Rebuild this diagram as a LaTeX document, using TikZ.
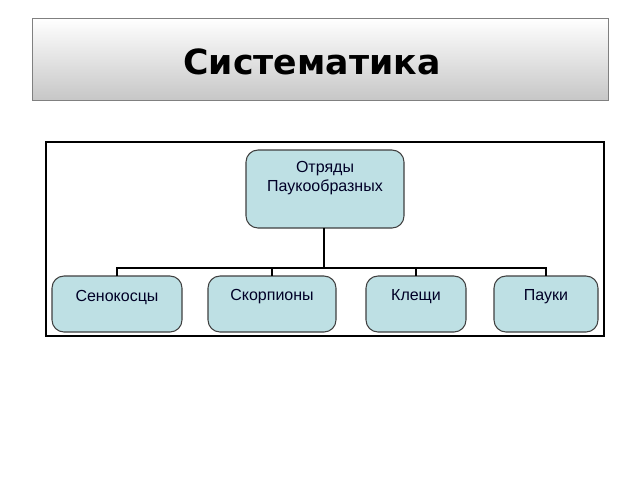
\documentclass[tikz,border=0pt]{standalone}
\usepackage{fontspec}
\setmainfont{Liberation Sans}
\newfontfamily\titlefont{DejaVu Sans}
\begin{document}
\begin{tikzpicture}[x=0.75pt,y=-0.75pt,
  box/.style={draw=black!75,line width=0.8pt,fill={rgb,255:red,190;green,224;blue,228},rounded corners=9pt},
  lbl/.style={font=\fontsize{12}{14}\selectfont,align=center,text=black!85!blue},
  conn/.style={line width=2pt}]
\useasboundingbox (0,0) rectangle (640,480);
\fill[white] (0,0) rectangle (640,480);
\shade[top color=white,bottom color=black!22,draw=black!50] (32,18) rectangle (608,100);
\node (title) at (312,62) {\titlefont\bfseries\fontsize{26}{30}\selectfont Систематика};
\draw[line width=1.3pt] (46,142) rectangle (604,336);
\draw[box] (246,150) rectangle (404,228);
\node[lbl] (top) at (325,178) {Отряды\\Паукообразных};
\draw[box] (52,276) rectangle (182,332);
\node[lbl] (a) at (117,297) {Сенокосцы};
\draw[box] (208,276) rectangle (336,332);
\node[lbl] (b) at (272,297) {Скорпионы};
\draw[box] (366,276) rectangle (466,332);
\node[lbl] (c) at (416,297) {Клещи};
\draw[box] (494,276) rectangle (598,332);
\node[lbl] (d) at (546,297) {Пауки};
\coordinate (hub) at (324,268);
\draw[conn] (324,228) -- (hub);
\draw[conn] (117,276) -- (117,268) -- (546,268) -- (546,276);
\draw[conn] (272,268) -- (272,276);
\draw[conn] (416,268) -- (416,276);
\end{tikzpicture}
\end{document}
